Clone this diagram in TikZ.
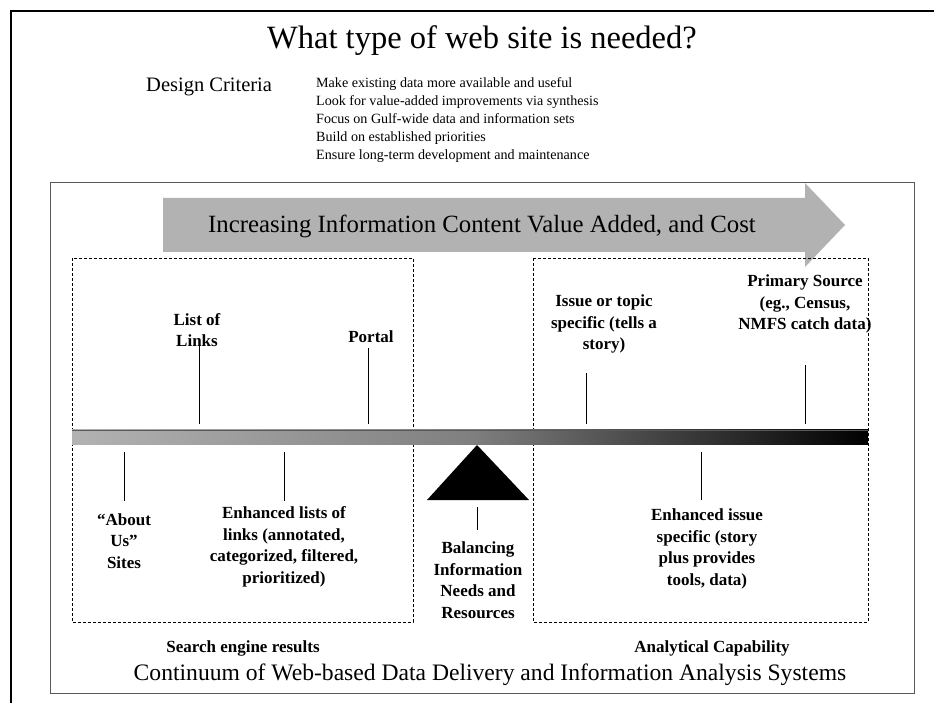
\documentclass[tikz,border=0pt]{standalone}
\usepackage{fontspec}
\setmainfont{Liberation Serif}
\usetikzlibrary{shapes.arrows}
\begin{document}
\begin{tikzpicture}[x=1pt,y=-1pt,
  lbl/.style={font=\fontsize{17}{21.5}\selectfont\bfseries, align=center, inner sep=0pt},
  tick/.style={draw=black, line width=0.8pt},
  dbox/.style={draw=black, dashed, line width=0.7pt, dash pattern=on 3pt off 2pt}]
\useasboundingbox (0,0) rectangle (934,703);
\fill[white] (0,0) rectangle (934,703);
% outer frame
\draw[line width=1.8pt] (11,703) -- (11,11) -- (934,11);
% title
\node[inner sep=0pt, font=\fontsize{32.5}{36}\selectfont] (title) at (482,41) {What type of web site is needed?};
\node[inner sep=0pt, font=\fontsize{20.5}{22}\selectfont, anchor=base west] (dc) at (146,92) {Design Criteria};
\node[inner sep=0pt, font=\fontsize{14.1}{18.2}\selectfont, align=left, anchor=north west] (crit) at (316,77)
 {Make existing data more available and useful\\Look for value-added improvements via synthesis\\Focus on Gulf-wide data and information sets\\Build on established priorities\\Ensure long-term development and maintenance};
% inner box
\draw[line width=1pt, draw=black!65] (50,183) rectangle (914,693);
% big arrow
\fill[black!30] (163,198) -- (805,198) -- (805,183) -- (845,225) -- (805,267) -- (805,252) -- (163,252) -- cycle;
\node[inner sep=0pt, font=\fontsize{24.8}{26}\selectfont] (arrtxt) at (482,226) {Increasing Information Content Value Added, and Cost};
% dashed boxes
\draw[dbox] (72,258) rectangle (413,622);
\draw[dbox] (533,258) rectangle (868,622);
% gradient bar
\shade[left color=black!30, right color=black, middle color=black!50] (72,429.5) rectangle (868,444);
\draw[black!65, line width=1pt] (72,430) -- (868,430);
\node[inner sep=0pt, minimum width=796pt, minimum height=14pt] (bar) at (470,437) {};
% triangle
\fill[black] (477,445) -- (529,500) -- (427,500) -- cycle;
\coordinate (tri) at (477,500);
% labels above
\node[lbl] (links) at (197,330) {List of\\Links};
\node[lbl] (portal) at (371,337) {Portal};
\node[lbl] (issue) at (604,324) {Issue or topic\\specific (tells a\\story)};
\node[lbl] (primary) at (805,304) {Primary Source\\(eg., Census,\\NMFS catch data)};
% labels below
\node[lbl] (about) at (124,541) {``About\\Us''\\Sites};
\node[lbl] (enlist) at (284,547) {Enhanced lists of\\links (annotated,\\categorized, filtered,\\prioritized)};
\node[lbl] (balance) at (478,580) {Balancing\\Information\\Needs and\\Resources};
\node[lbl] (enissue) at (707,549) {Enhanced issue\\specific (story\\plus provides\\tools, data)};
\node[lbl] (search) at (243,648) {Search engine results};
\node[lbl] (analyt) at (712,648) {Analytical Capability};
\node[inner sep=0pt, font=\fontsize{23.6}{26}\selectfont] (cont) at (490,675) {Continuum of Web-based Data Delivery and Information Analysis Systems};
% ticks
\draw[tick] (199,345) -- (199,424);
\draw[tick] (368,348) -- (368,424);
\draw[tick] (586,373) -- (586,424);
\draw[tick] (805,365) -- (805,424);
\draw[tick] (124,452) -- (124,501);
\draw[tick] (284,452) -- (284,501);
\draw[tick] (477,507) -- (477,530);
\draw[tick] (701,452) -- (701,500);
\end{tikzpicture}
\end{document}
